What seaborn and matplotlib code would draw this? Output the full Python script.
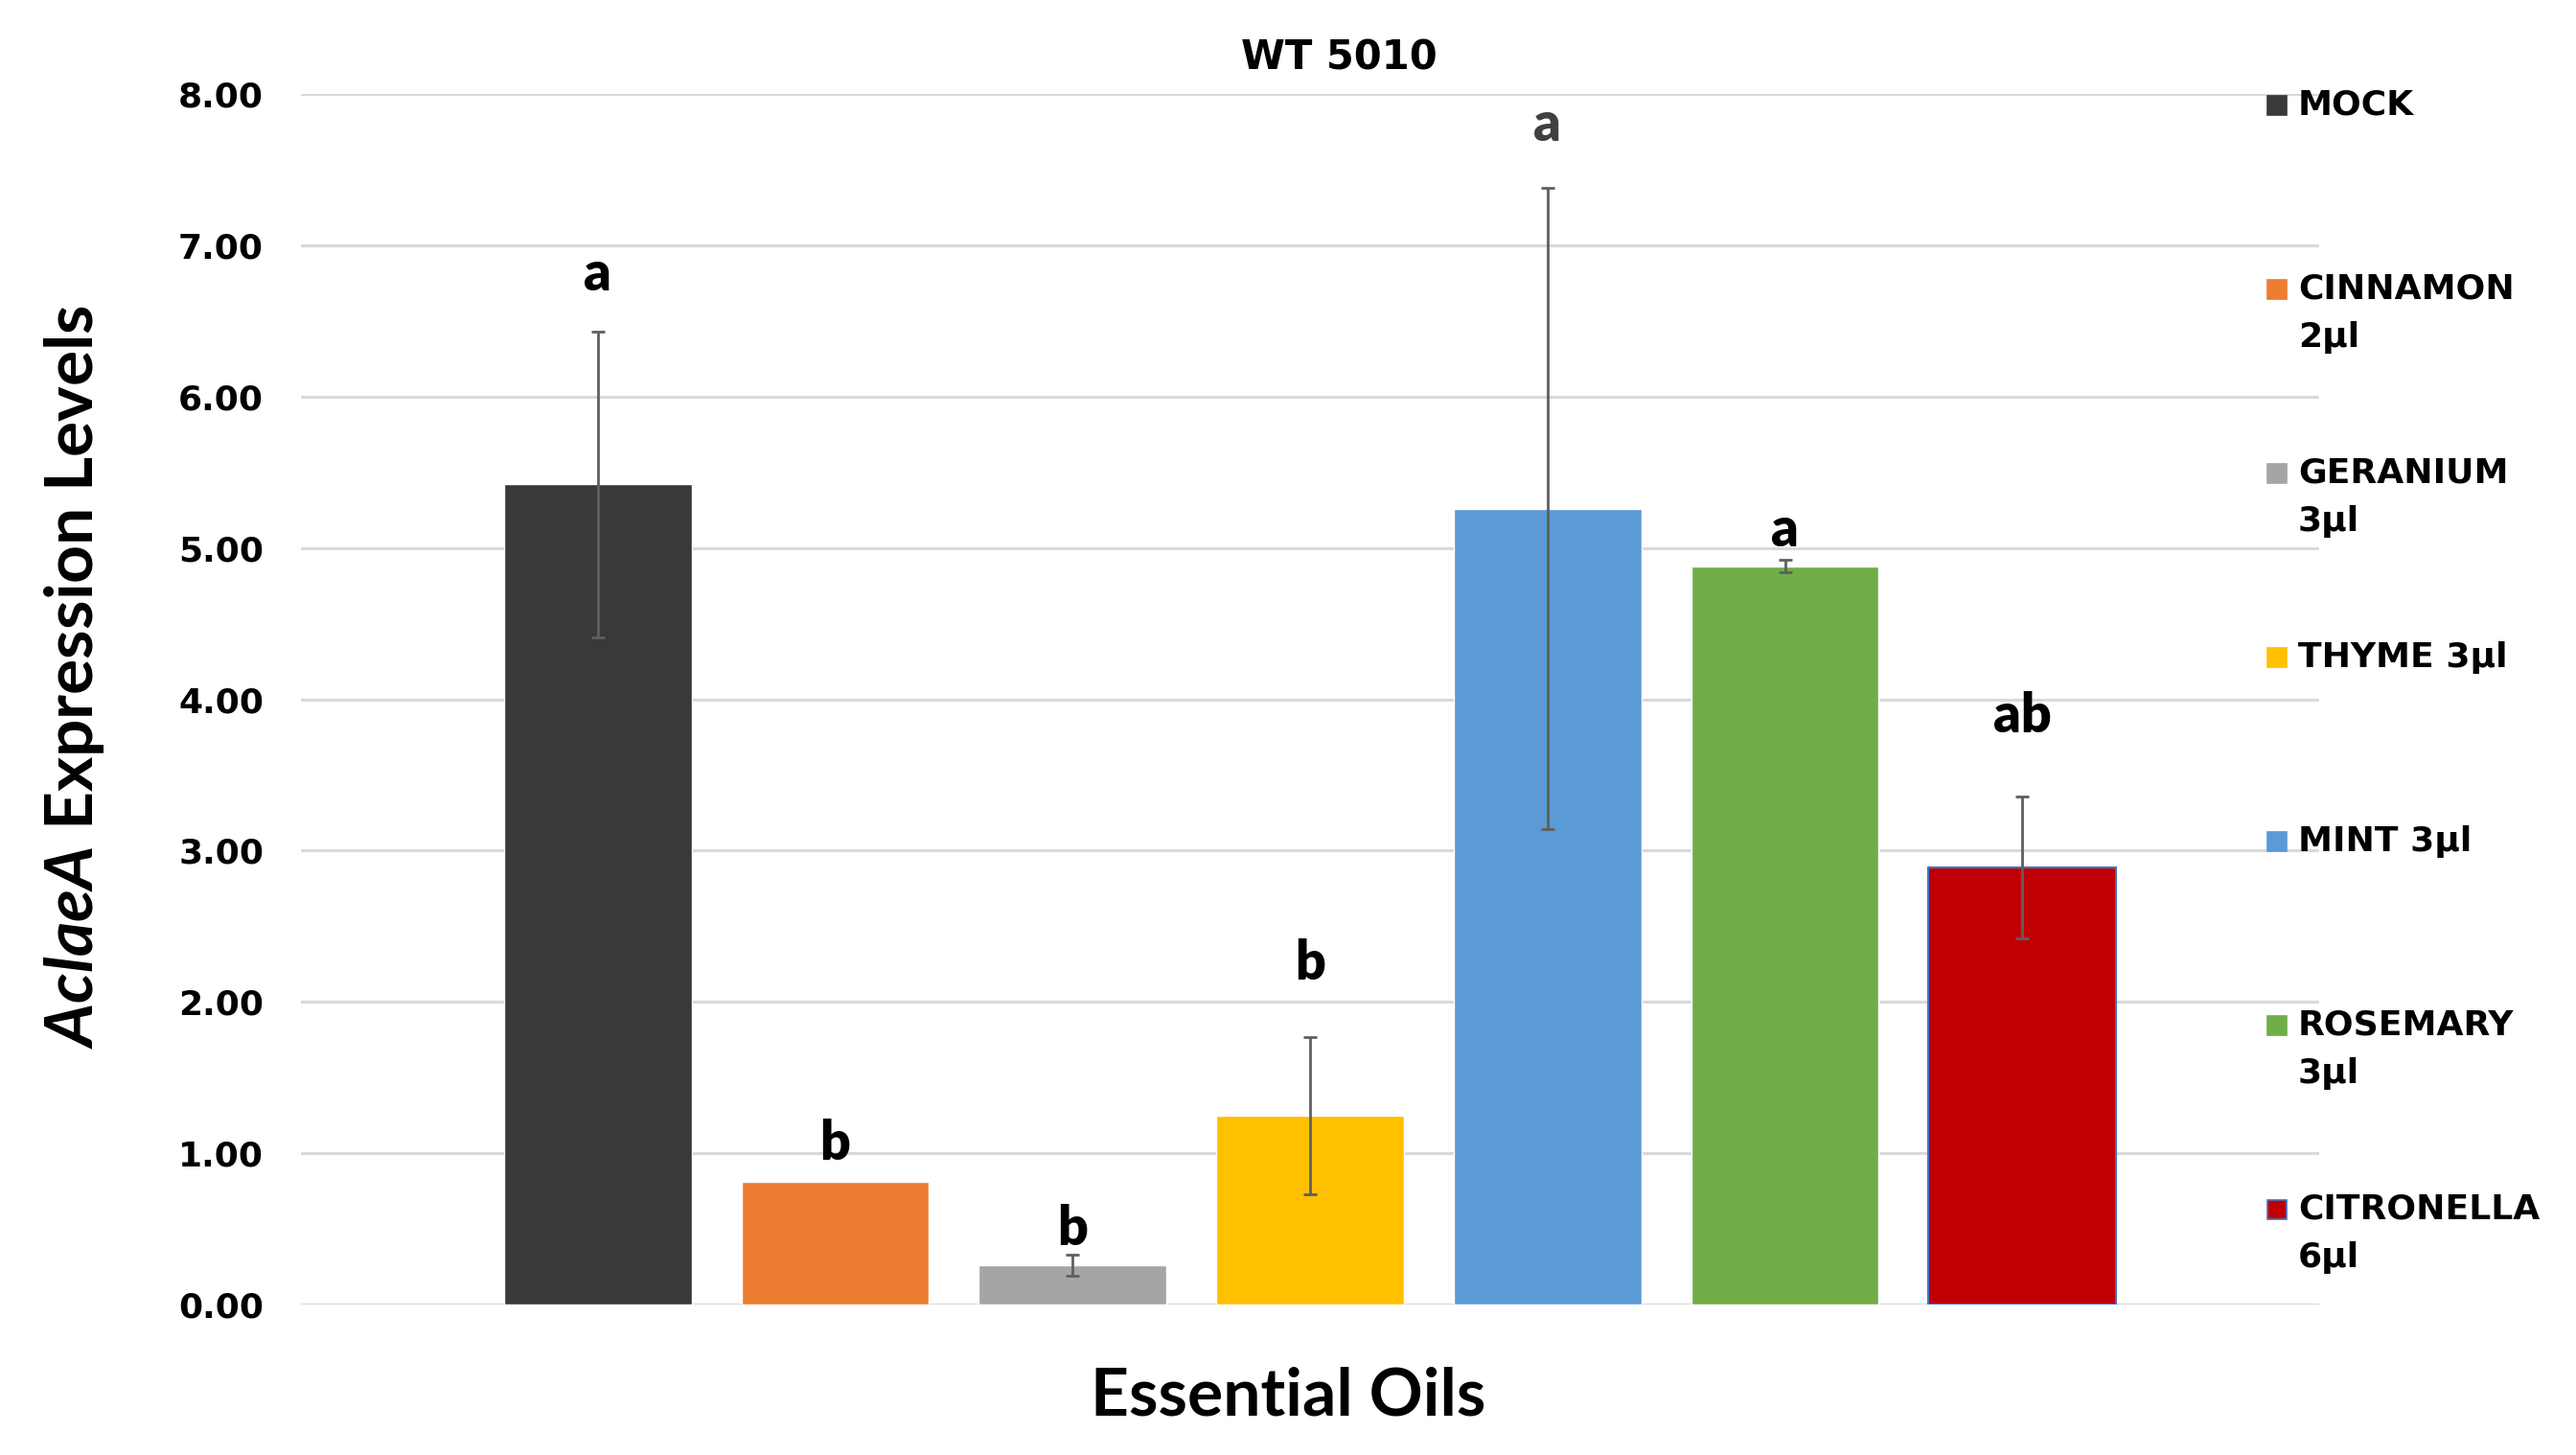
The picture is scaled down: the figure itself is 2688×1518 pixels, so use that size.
import matplotlib
matplotlib.use("Agg")
import matplotlib.pyplot as plt
from matplotlib.patches import Rectangle
import seaborn as sns
import pandas as pd

# data
oils = ["MOCK", "CINNAMON 2µl", "GERANIUM 3µl", "THYME 3µl",
        "MINT 3µl", "ROSEMARY 3µl", "CITRONELLA 6µl"]
legend_lines = [["MOCK"], ["CINNAMON", "2µl"], ["GERANIUM", "3µl"], ["THYME 3µl"],
                ["MINT 3µl"], ["ROSEMARY", "3µl"], ["CITRONELLA", "6µl"]]
expression = [5.42, 0.81, 0.26, 1.25, 5.26, 4.88, 2.89]
std_err = [1.01, 0.0, 0.07, 0.52, 2.12, 0.04, 0.47]   # cinnamon has no visible bar
letters = ["a", "b", "b", "b", "a", "a", "ab"]
letter_y = [6.70, 0.955, 0.39, 2.15, 7.69, 5.01, 3.78]
letter_colors = ["black", "black", "black", "black", "#404040", "black", "black"]
colors = ["#3A3938", "#ED7D31", "#A5A5A5", "#FFC000", "#5B9BD5", "#70AD47", "#C00000"]
y_ticks = [0, 1, 2, 3, 4, 5, 6, 7, 8]

sns.set_theme(style="white")
plt.rcParams["font.family"] = ["DejaVu Sans"]
plt.rcParams["text.color"] = "black"
plt.rcParams["ytick.color"] = "black"
plt.rcParams["mathtext.fontset"] = "custom"
plt.rcParams["mathtext.it"] = "Lato:italic:bold"
plt.rcParams["mathtext.rm"] = "Lato:bold"

df = pd.DataFrame({"oil": oils, "level": expression})

fig = plt.figure(figsize=(26.88, 15.18), dpi=100)
ax = fig.add_axes([0.1168, 0.1034, 0.9003 - 0.1168, 0.9354 - 0.1034])

sns.barplot(data=df, x="oil", y="level", hue="oil", palette=colors,
            width=0.79, saturation=1, legend=False, ax=ax)
# thin blue outline on the citronella bar, as in the source
ax.patches[6].set_edgecolor("#4472C4")
ax.patches[6].set_linewidth(1.5)

# error bars only where the source shows one
xs = [i for i, e in enumerate(std_err) if e > 0]
ax.errorbar(xs, [expression[i] for i in xs], yerr=[std_err[i] for i in xs],
            fmt="none", ecolor="#5F5F5F", elinewidth=2, capsize=5, capthick=2,
            zorder=5)

for x, lab, ly, lc in zip(range(len(oils)), letters, letter_y, letter_colors):
    ax.text(x, ly, lab, ha="center", va="baseline", fontsize=40,
            fontweight="heavy", family="Lato", color=lc, clip_on=False)

ax.set_xlim(-1.25, 7.25)
ax.set_ylim(0, 8)
ax.set_yticks(y_ticks)
ax.set_yticklabels([f"{v:.2f}" for v in y_ticks], fontsize=26, fontweight="bold")
ax.set_xticks([])
ax.set_xlabel("")
ax.set_ylabel("")
ax.tick_params(axis="y", length=0, pad=28)
ax.grid(axis="y", color="#D9D9D9", linewidth=2.2)
ax.set_axisbelow(True)
for s in ax.spines.values():
    s.set_visible(False)

fig.text(0.52, 0.960, "WT 5010", ha="center", va="center", fontsize=30,
         fontweight="bold")
fig.text(0.5, 0.040, "Essential Oils", ha="center", va="center", fontsize=50,
         fontweight="bold", family="Lato")
fig.text(0.0287, 0.535, r"$\mathit{AclaeA}$ Expression Levels", rotation=90,
         ha="center", va="center", fontsize=50, fontweight="bold", family="Lato")

# legend drawn on the right, marker aligned with the first line of each label
W, H = 2688, 1518
for i, (lines, c) in enumerate(zip(legend_lines, colors)):
    yc = 110 + i * 192
    edge = "#4472C4" if i == 6 else c
    fig.add_artist(Rectangle((2366 / W, 1 - (yc + 10) / H), 20 / W, 20 / H,
                             transform=fig.transFigure, facecolor=c,
                             edgecolor=edge, linewidth=1.2))
    for j, t in enumerate(lines):
        fig.text(2398 / W, 1 - (yc + j * 50) / H, t, ha="left", va="center",
                 fontsize=26, fontweight="bold")

fig.savefig("out.png", dpi=100)
